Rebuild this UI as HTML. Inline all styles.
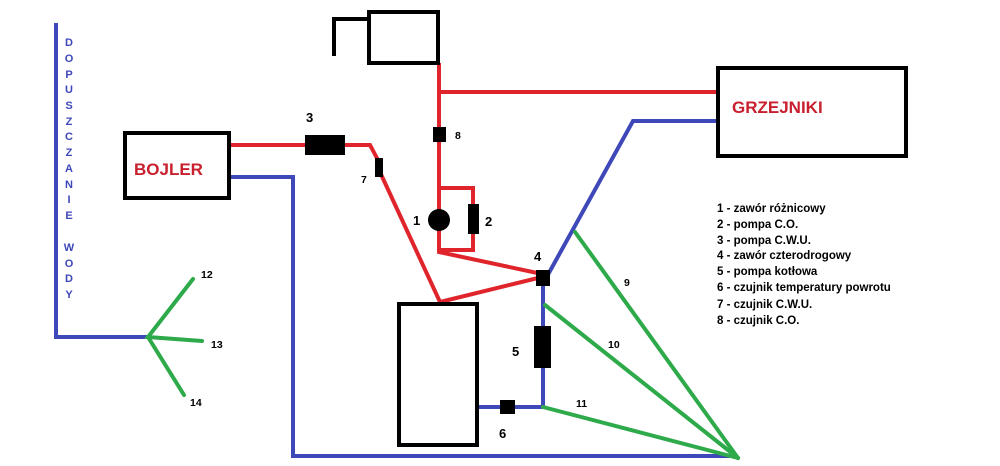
<!DOCTYPE html>
<html><head><meta charset="utf-8"><style>
body{margin:0;background:#fff;}
svg{display:block;}
text{font-family:"Liberation Sans",sans-serif;font-weight:bold;}
</style></head><body>
<svg width="1000" height="466" viewBox="0 0 1000 466" xmlns="http://www.w3.org/2000/svg">
<g fill="none" stroke-linejoin="miter">
<!-- blue -->
<g stroke="#3f48b8" stroke-width="4">
<polyline points="56,23 56,337 148,337"/>
<polyline points="229,177 293,177 293,456 737,456"/>
<polyline points="545,280 633,121 717,121"/>
<polyline points="543,284 543,407 477,407"/>
</g>
<!-- green -->
<g stroke="#2eaa4a" stroke-width="4" stroke-linecap="round">
<polyline points="193,279 148,337 202,341"/>
<line x1="148" y1="337" x2="184" y2="395"/>
<line x1="575" y1="232" x2="738" y2="458"/>
<line x1="545" y1="305" x2="738" y2="458"/>
<line x1="543" y1="407" x2="738" y2="458"/>
</g>
<!-- red -->
<g stroke="#e0242c" stroke-width="4">
<polyline points="229,145 370,145 379,162"/>
<polyline points="379,170 440,302 542,277"/>
<polyline points="439,63 439,252 542,274"/>
<line x1="439" y1="92" x2="717" y2="92"/>
<polyline points="439,188 473,188 473,250 439,250"/>
</g>
<!-- black boxes -->
<g stroke="#000" stroke-width="4">
<rect x="125" y="133" width="104" height="65"/>
<rect x="369" y="12" width="69" height="51"/>
<polyline points="369,19 334,19 334,56"/>
<rect x="399" y="304" width="78" height="141"/>
<rect x="718" y="68" width="188" height="88"/>
</g>
</g>
<g fill="#000">
<rect x="305" y="135" width="40" height="20"/>
<rect x="375" y="158" width="8" height="19"/>
<rect x="433" y="127" width="13" height="15"/>
<circle cx="439" cy="220" r="11"/>
<rect x="468" y="204" width="11" height="30"/>
<rect x="536" y="270" width="14" height="16"/>
<rect x="534" y="326" width="17" height="42"/>
<rect x="500" y="400" width="15" height="14"/>
</g>
<g fill="#c8202e" font-size="17">
<text x="134" y="175">BOJLER</text>
<text x="732" y="113">GRZEJNIKI</text>
</g>
<g fill="#000" font-size="13">
<text x="306" y="122">3</text>
<text x="413" y="225">1</text>
<text x="485" y="226">2</text>
<text x="534" y="261">4</text>
<text x="512" y="356">5</text>
<text x="499" y="438">6</text>
</g>
<g fill="#000" font-size="10.5">
<text x="361" y="183">7</text>
<text x="455" y="139">8</text>
<text x="624" y="286">9</text>
<text x="608" y="348">10</text>
<text x="576" y="407">11</text>
<text x="201" y="278">12</text>
<text x="211" y="348">13</text>
<text x="190" y="406">14</text>
</g>
<g fill="#000" font-size="11.5">
<text x="717" y="212">1 - zawór różnicowy</text>
<text x="717" y="228">2 - pompa C.O.</text>
<text x="717" y="244">3 - pompa C.W.U.</text>
<text x="717" y="259">4 - zawór czterodrogowy</text>
<text x="717" y="275">5 - pompa kotłowa</text>
<text x="717" y="291">6 - czujnik temperatury powrotu</text>
<text x="717" y="308">7 - czujnik C.W.U.</text>
<text x="717" y="324">8 - czujnik C.O.</text>
</g>
<g fill="#3f48b8" font-size="11" text-anchor="middle">
<text x="69" y="46">D</text><text x="69" y="62">O</text><text x="69" y="78">P</text>
<text x="69" y="93">U</text><text x="69" y="109">S</text><text x="69" y="125">Z</text>
<text x="69" y="140">C</text><text x="69" y="156">Z</text><text x="69" y="172">A</text>
<text x="69" y="188">N</text><text x="69" y="203">I</text><text x="69" y="219">E</text>
<text x="69" y="251">W</text><text x="69" y="267">O</text><text x="69" y="282">D</text>
<text x="69" y="298">Y</text>
</g>
</svg>
</body></html>
